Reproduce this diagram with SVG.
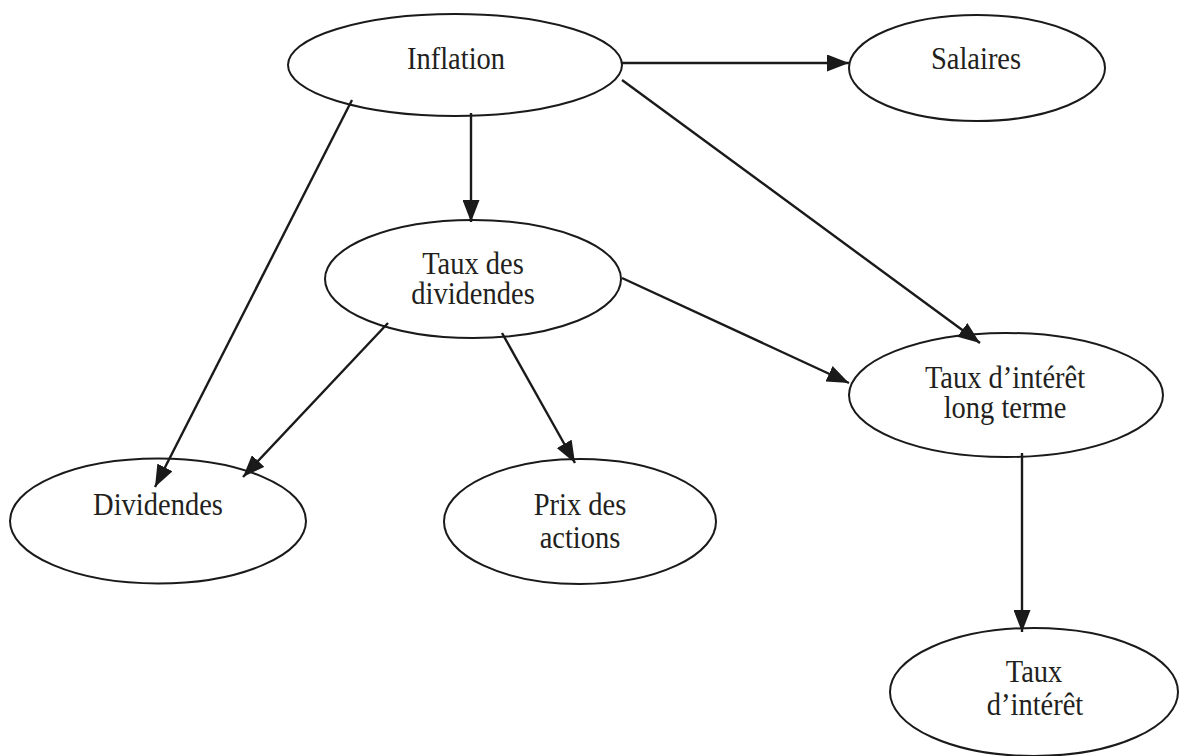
<svg xmlns="http://www.w3.org/2000/svg" width="1181" height="756" viewBox="0 0 1181 756">
<style>
.node ellipse{fill:#ffffff;stroke:#1a1a1a;stroke-width:2}
.node text{font-family:"Liberation Serif","Times New Roman",serif;font-size:28.5px;fill:#231f20;text-anchor:middle}
.edges line{stroke:#1a1a1a;stroke-width:2.4;marker-end:url(#arr)}
</style>
<defs>
<marker id="arr" markerUnits="userSpaceOnUse" markerWidth="22" markerHeight="17" viewBox="0 0 22 17" refX="22" refY="8.5" orient="auto">
<path d="M0,0 L22,8.5 L0,17 Z" fill="#1a1a1a"/>
</marker>
</defs>
<rect width="1181" height="756" fill="#ffffff"/>
<g id="n-inflation" class="node"><ellipse cx="455" cy="65" rx="167" ry="51"/><text transform="translate(456,69) scale(1,1.08)">Inflation</text></g>
<g id="n-salaires" class="node"><ellipse cx="977" cy="68" rx="128" ry="53"/><text transform="translate(976,69) scale(1,1.08)">Salaires</text></g>
<g id="n-tauxdiv" class="node"><ellipse cx="473" cy="279" rx="148" ry="59"/><text transform="translate(473,274) scale(1,1.08)">Taux des</text><text transform="translate(473,304) scale(1,1.08)">dividendes</text></g>
<g id="n-longterme" class="node"><ellipse cx="1006" cy="395" rx="157" ry="62"/><text transform="translate(1005,388) scale(1,1.08)">Taux d’intérêt</text><text transform="translate(1005,418) scale(1,1.08)">long terme</text></g>
<g id="n-dividendes" class="node"><ellipse cx="158" cy="521" rx="148" ry="62.5"/><text transform="translate(158,515) scale(1,1.08)">Dividendes</text></g>
<g id="n-prix" class="node"><ellipse cx="580" cy="521.5" rx="136" ry="62.5"/><text transform="translate(580,515) scale(1,1.08)">Prix des</text><text transform="translate(580,548) scale(1,1.08)">actions</text></g>
<g id="n-taux" class="node"><ellipse cx="1034" cy="692" rx="144" ry="64"/><text transform="translate(1034,682) scale(1,1.08)">Taux</text><text transform="translate(1035,715) scale(1,1.08)">d’intérêt</text></g>
<g id="edges" class="edges">
<line x1="622" y1="63" x2="849" y2="63"/>
<line x1="622" y1="80" x2="980" y2="343"/>
<line x1="471" y1="113" x2="471" y2="222"/>
<line x1="352" y1="100" x2="155" y2="487"/>
<line x1="388" y1="323" x2="243" y2="477"/>
<line x1="502" y1="333" x2="575" y2="463"/>
<line x1="622" y1="278" x2="849" y2="383"/>
<line x1="1022" y1="453" x2="1022" y2="632"/>
</g>
</svg>
